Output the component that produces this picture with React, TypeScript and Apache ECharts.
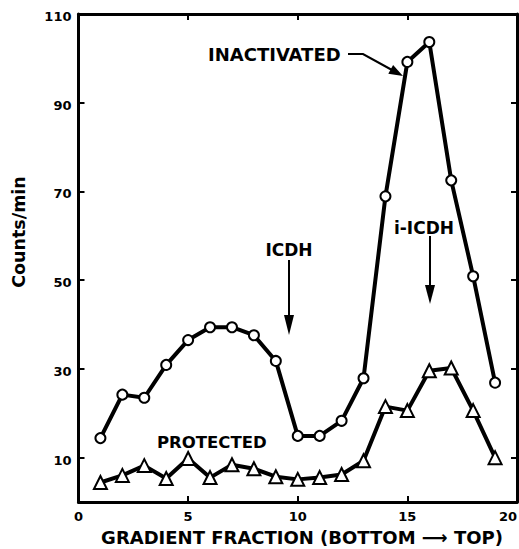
import React, { useEffect, useRef } from "react";
import * as echarts from "echarts";

const fractions = [1, 2, 3, 4, 5, 6, 7, 8, 9, 10, 11, 12, 13, 14, 15, 16, 17, 18, 19];
const inactivated = [14.4, 24.2, 23.5, 30.9, 36.5, 39.4, 39.4, 37.6, 31.8, 14.9, 14.9, 18.3, 27.9, 68.9, 99.2, 103.7, 72.5, 50.9, 26.9];
const protectedVals = [4.4, 6.0, 8.2, 5.3, 9.8, 5.5, 8.4, 7.5, 5.7, 5.1, 5.5, 6.2, 9.3, 21.5, 20.6, 29.6, 30.2, 20.6, 10.0];
const yTicks = [10, 30, 50, 70, 90, 110];
const xTitle = "GRADIENT FRACTION (BOTTOM \u27F6 TOP)";
const yTitle = "Counts/min";

const FONT = "DejaVu Sans";

export default function App() {
  const ref = useRef<HTMLDivElement>(null);
  useEffect(() => {
    if (!ref.current) return;
    const chart = echarts.init(ref.current, null, { renderer: "svg" });
    const axisLine = { show: true, onZero: false, lineStyle: { color: "#000", width: 3 } };
    const tick = { show: true, inside: true, length: 6, lineStyle: { color: "#000", width: 2 } };
    const labelStyle = { color: "#000", fontFamily: FONT, fontWeight: "bold" as const, fontSize: 13 };
    const textStyle = (size: number) => ({
      fill: "#000",
      font: `bold ${size}px "${FONT}"`,
    });
    chart.setOption({
      animation: false,
      backgroundColor: "#fff",
      grid: { left: 78.5, top: 14, right: 2, bottom: 47, containLabel: false, outerBoundsMode: "none" },
      xAxis: [
        {
          type: "value",
          min: 0,
          max: 20,
          interval: 5,
          axisLine,
          axisTick: tick,
          splitLine: { show: false },
          axisLabel: { ...labelStyle, margin: 8, alignMaxLabel: "right" },
        },
        {
          type: "value",
          position: "top",
          min: 0,
          max: 20,
          interval: 5,
          axisLine,
          axisTick: tick,
          splitLine: { show: false },
          axisLabel: { show: false },
        },
      ],
      yAxis: [
        {
          type: "value",
          min: 0,
          max: 110,
          axisLine,
          axisTick: { ...tick, customValues: yTicks },
          splitLine: { show: false },
          axisLabel: { ...labelStyle, margin: 7, customValues: yTicks, verticalAlign: "top", padding: [-4, 0, 0, 0] },
        },
        {
          type: "value",
          position: "right",
          min: 0,
          max: 110,
          axisLine,
          axisTick: { ...tick, customValues: yTicks },
          splitLine: { show: false },
          axisLabel: { show: false, customValues: yTicks },
        },
      ],
      series: [
        {
          type: "line",
          data: fractions.map((f, i) => [f, inactivated[i]]),
          symbol: "circle",
          symbolSize: 10,
          lineStyle: { color: "#000", width: 4 },
          itemStyle: { color: "#fff", borderColor: "#000", borderWidth: 2 },
          z: 3,
        },
        {
          type: "line",
          data: fractions.map((f, i) => [f, protectedVals[i]]),
          symbol: "triangle",
          symbolSize: 13,
          lineStyle: { color: "#000", width: 4 },
          itemStyle: { color: "#fff", borderColor: "#000", borderWidth: 2 },
          z: 3,
        },
      ],
      graphic: [
        { type: "text", x: 208, y: 54, style: { text: "INACTIVATED", ...textStyle(18), textVerticalAlign: "middle" } },
        { type: "polyline", shape: { points: [[348, 54], [363, 54], [392, 70]] }, style: { stroke: "#000", lineWidth: 2, fill: null } },
        { type: "polygon", shape: { points: [[403, 76], [388.3, 73.7], [393.1, 64.9]] }, style: { fill: "#000" } },
        { type: "text", x: 289, y: 250, style: { text: "ICDH", ...textStyle(17), textAlign: "center", textVerticalAlign: "middle" } },
        { type: "line", shape: { x1: 289, y1: 260, x2: 289, y2: 318 }, style: { stroke: "#000", lineWidth: 2 } },
        { type: "polygon", shape: { points: [[289, 335], [284, 315], [294, 315]] }, style: { fill: "#000" } },
        { type: "text", x: 424, y: 228, style: { text: "i-ICDH", ...textStyle(17), textAlign: "center", textVerticalAlign: "middle" } },
        { type: "line", shape: { x1: 430, y1: 236, x2: 430, y2: 288 }, style: { stroke: "#000", lineWidth: 2 } },
        { type: "polygon", shape: { points: [[430, 304], [425, 285], [435, 285]] }, style: { fill: "#000" } },
        { type: "text", x: 157, y: 442, style: { text: "PROTECTED", ...textStyle(16.5), textVerticalAlign: "middle" } },
        { type: "text", x: 302, y: 537, style: { text: xTitle, ...textStyle(18), textAlign: "center", textVerticalAlign: "middle" } },
        { type: "text", x: 19, y: 232, rotation: Math.PI / 2, style: { text: yTitle, ...textStyle(17.5), textAlign: "center", textVerticalAlign: "middle" } },
      ],
    });
    return () => chart.dispose();
  }, []);
  return <div ref={ref} style={{ position: "fixed", left: 0, top: 0, width: 519, height: 549 }} />;
}
